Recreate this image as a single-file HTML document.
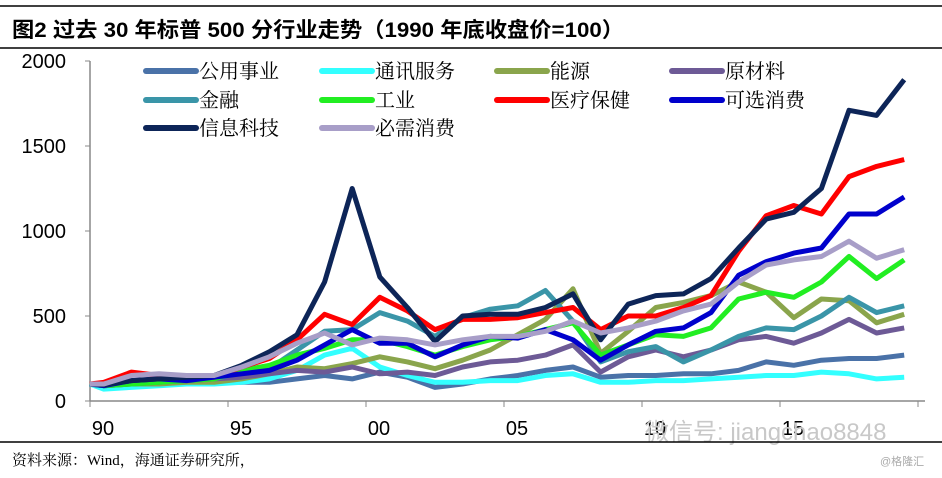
<!DOCTYPE html>
<html><head><meta charset="utf-8"><style>
body{margin:0;background:#fff;width:942px;height:473px;overflow:hidden;font-family:"Liberation Sans","Noto Sans CJK SC",sans-serif}
</style></head><body>
<svg width="942" height="473" xmlns="http://www.w3.org/2000/svg" font-family="Liberation Sans, Noto Sans CJK SC, sans-serif">
<line x1="0" y1="6" x2="942" y2="6" stroke="#000" stroke-width="1.5"/>
<text x="12" y="37" font-size="21" font-weight="bold" textLength="612" lengthAdjust="spacingAndGlyphs">图2  过去 30 年标普 500 分行业走势（1990 年底收盘价=100）</text>
<line x1="0" y1="48" x2="942" y2="48" stroke="#000" stroke-width="1.5"/>
<g id="axes"></g>
<g id="series"></g>
<g id="legend"></g>
<text x="645" y="440" font-size="24" fill="#c8c8c8">微信号: jiangchao8848</text>
<line x1="0" y1="442" x2="942" y2="442" stroke="#000" stroke-width="1.5"/>
<text x="12" y="465" font-size="15" font-family="Liberation Serif, Noto Serif CJK SC, serif">资料来源：Wind，海通证券研究所，</text>
<text x="880" y="465" font-size="11" fill="#aaa">@格隆汇</text>
</svg>
<script>
const yTicks=[0,500,1000,1500,2000];
const xTickLabels=["90","95","00","05","10","15"];
const seriesNames=["公用事业","通讯服务","能源","原材料","金融","工业","医疗保健","可选消费","信息科技","必需消费"];
const seriesColors=["#4a72a8","#33ffff","#8aa54c","#6d5a96","#3a95a8","#22ee22","#ff0000","#0000cc","#0d2558","#a89ec8"];
const utilities=[100,80,90,100,110,110,110,110,130,150,130,170,140,80,100,130,150,180,200,140,150,150,160,160,180,230,210,240,250,250,270];
const telecom=[100,70,80,90,100,100,110,130,180,270,310,200,150,110,110,120,120,150,160,110,110,120,120,130,140,150,150,170,160,130,140];
const energy=[100,90,100,100,110,110,130,160,200,190,220,260,230,190,240,300,390,480,660,280,410,550,580,620,700,640,490,600,590,460,510];
const materials=[100,90,100,110,120,130,140,160,180,170,200,160,170,150,200,230,240,270,330,170,260,300,260,300,360,380,340,400,480,400,430];
const financials=[100,90,110,120,130,130,170,190,300,410,420,520,470,380,490,540,560,650,470,230,290,320,230,300,380,430,420,500,610,520,560];
const industrials=[100,90,100,110,120,130,180,210,270,310,360,360,320,270,320,360,380,420,460,270,330,390,380,430,600,640,610,700,850,720,830];
const healthcare=[100,110,170,150,150,140,200,250,360,510,450,610,530,420,480,480,490,520,550,420,500,500,550,620,880,1090,1150,1100,1320,1380,1420];
const discretionary=[100,90,120,130,120,140,160,180,240,330,420,340,340,260,330,380,370,420,360,240,330,410,430,520,740,820,870,900,1100,1100,1200];
const tech=[100,95,120,130,140,150,210,290,390,700,1250,730,550,350,500,510,510,550,630,360,570,620,630,720,900,1070,1110,1250,1710,1680,1890];
const staples=[100,100,150,160,150,150,200,260,340,400,330,370,360,330,360,380,380,410,470,400,430,470,530,570,700,800,830,850,940,840,890];
const allSeries=[utilities,telecom,energy,materials,financials,industrials,healthcare,discretionary,tech,staples];
const NS="http://www.w3.org/2000/svg";
const X0=90,PX=27.6,Y0=401,PY=0.17;
function xs(t){return X0+t*PX;}
function ys(v){return Y0-v*PY;}
function tOf(i){return i===0?0:i-0.5;}
function mk(tag,attrs,parent){const e=document.createElementNS(NS,tag);for(const k in attrs)e.setAttribute(k,attrs[k]);parent.appendChild(e);return e;}
const ax=document.getElementById('axes');
let e=mk('line',{x1:X0,y1:ys(0),x2:925,y2:ys(0),stroke:'#888','stroke-width':1.5},ax);


e=mk('line',{x1:X0,y1:ys(0),x2:X0,y2:ys(2000),stroke:'#888','stroke-width':1.5},ax);


yTicks.forEach(v=>{
  mk('line',{x1:X0-5,y1:ys(v),x2:X0,y2:ys(v),stroke:'#888'},ax);
  const t=mk('text',{x:66,y:ys(v)+7,'text-anchor':'end','font-size':20},ax);
  t.textContent=v;
  
  
});
for(let k=0;k<=6;k++){mk('line',{x1:xs(k*5),y1:ys(0),x2:xs(k*5),y2:ys(0)+6,stroke:'#888'},ax);}
xTickLabels.forEach((s,k)=>{
  const t=mk('text',{x:xs(k*5)+13,y:435,'text-anchor':'middle','font-size':20},ax);
  t.textContent=s;
  
  
});
const sg=document.getElementById('series');
allSeries.forEach((arr,si)=>{
  const p=mk('polyline',{points:arr.map((v,i)=>xs(tOf(i)).toFixed(1)+','+ys(v).toFixed(1)).join(' '),fill:'none',stroke:seriesColors[si],'stroke-width':5,'stroke-linejoin':'round'},sg);
  
  
});
const lg=document.getElementById('legend');
const colX=[146,322,497,672],rowY=[71,100,128];
seriesNames.forEach((n,i)=>{
  const x=colX[i%4],y=rowY[Math.floor(i/4)];
  const g=mk('g',{},lg);
  
  
  mk('line',{x1:x,y1:y,x2:x+50,y2:y,stroke:seriesColors[i],'stroke-width':6,'stroke-linecap':'round'},g);
  const t=mk('text',{x:x+53,y:y+7,'font-size':20,'font-family':'Liberation Serif, Noto Serif CJK SC, serif'},g);
  t.textContent=n;
});
</script>
</body></html>
